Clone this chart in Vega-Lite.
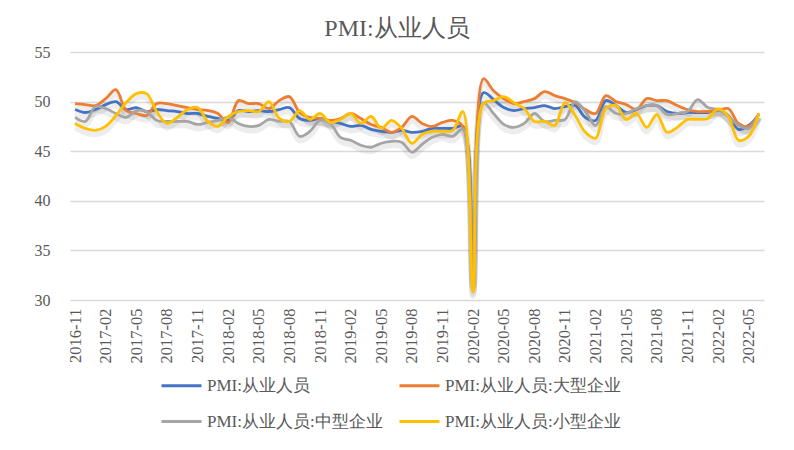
{
  "$schema": "https://vega.github.io/schema/vega-lite/v6.json",
  "width": 694,
  "height": 248,
  "autosize": {"type": "none"},
  "padding": {"left": 70, "top": 52, "right": 30, "bottom": 150},
  "background": "white",
  "config": {"view": {"stroke": null}, "font": "Liberation Serif"},
  "title": {"text": "PMI:从业人员", "fontSize": 24, "color": "#595959", "font": "Liberation Serif", "fontWeight": "normal", "anchor": "middle", "dx": -20, "offset": 3},
  "data": {"values": [
    {"month": "2016-11", "total": 49.2, "large": 49.8, "medium": 48.4, "small": 47.8},
    {"month": "2016-12", "total": 48.9, "large": 49.7, "medium": 48.0, "small": 47.3},
    {"month": "2017-01", "total": 49.2, "large": 49.6, "medium": 49.5, "small": 47.1},
    {"month": "2017-02", "total": 49.7, "large": 50.3, "medium": 49.3, "small": 47.5},
    {"month": "2017-03", "total": 50.0, "large": 51.2, "medium": 48.8, "small": 48.6},
    {"month": "2017-04", "total": 49.2, "large": 49.1, "medium": 48.4, "small": 49.9},
    {"month": "2017-05", "total": 49.4, "large": 48.8, "medium": 49.1, "small": 50.8},
    {"month": "2017-06", "total": 49.0, "large": 48.6, "medium": 49.0, "small": 50.8},
    {"month": "2017-07", "total": 49.2, "large": 49.8, "medium": 48.1, "small": 49.0},
    {"month": "2017-08", "total": 49.1, "large": 49.8, "medium": 48.0, "small": 47.8},
    {"month": "2017-09", "total": 49.0, "large": 49.6, "medium": 48.0, "small": 48.4},
    {"month": "2017-10", "total": 48.8, "large": 49.4, "medium": 48.0, "small": 49.2},
    {"month": "2017-11", "total": 48.8, "large": 49.2, "medium": 47.7, "small": 49.4},
    {"month": "2017-12", "total": 48.5, "large": 49.1, "medium": 47.9, "small": 48.0},
    {"month": "2018-01", "total": 48.3, "large": 48.8, "medium": 48.1, "small": 47.5},
    {"month": "2018-02", "total": 48.1, "large": 47.9, "medium": 48.4, "small": 48.5},
    {"month": "2018-03", "total": 49.1, "large": 50.1, "medium": 47.8, "small": 49.0},
    {"month": "2018-04", "total": 49.0, "large": 49.8, "medium": 47.5, "small": 49.1},
    {"month": "2018-05", "total": 49.1, "large": 49.8, "medium": 47.6, "small": 49.0},
    {"month": "2018-06", "total": 49.0, "large": 49.3, "medium": 48.2, "small": 50.0},
    {"month": "2018-07", "total": 49.2, "large": 50.1, "medium": 48.0, "small": 48.3},
    {"month": "2018-08", "total": 49.4, "large": 50.5, "medium": 48.0, "small": 48.0},
    {"month": "2018-09", "total": 48.3, "large": 48.9, "medium": 46.5, "small": 49.1},
    {"month": "2018-10", "total": 48.1, "large": 48.4, "medium": 47.0, "small": 48.2},
    {"month": "2018-11", "total": 48.3, "large": 48.3, "medium": 48.1, "small": 48.8},
    {"month": "2018-12", "total": 48.0, "large": 48.1, "medium": 47.8, "small": 47.9},
    {"month": "2019-01", "total": 47.8, "large": 48.3, "medium": 46.4, "small": 48.2},
    {"month": "2019-02", "total": 47.5, "large": 48.8, "medium": 46.1, "small": 48.8},
    {"month": "2019-03", "total": 47.6, "large": 48.3, "medium": 45.6, "small": 47.8},
    {"month": "2019-04", "total": 47.2, "large": 47.7, "medium": 45.4, "small": 48.5},
    {"month": "2019-05", "total": 47.0, "large": 47.4, "medium": 45.8, "small": 47.3},
    {"month": "2019-06", "total": 46.9, "large": 46.9, "medium": 46.0, "small": 48.1},
    {"month": "2019-07", "total": 47.1, "large": 47.4, "medium": 45.9, "small": 47.3},
    {"month": "2019-08", "total": 46.9, "large": 48.5, "medium": 44.9, "small": 45.8},
    {"month": "2019-09", "total": 47.0, "large": 47.8, "medium": 45.7, "small": 46.7},
    {"month": "2019-10", "total": 47.3, "large": 47.5, "medium": 46.4, "small": 47.0},
    {"month": "2019-11", "total": 47.3, "large": 47.9, "medium": 46.7, "small": 47.0},
    {"month": "2019-12", "total": 47.3, "large": 48.1, "medium": 46.5, "small": 47.1},
    {"month": "2020-01", "total": 47.5, "large": 47.5, "medium": 47.2, "small": 49.0},
    {"month": "2020-02", "total": 31.8, "large": 31.5, "medium": 31.0, "small": 30.8},
    {"month": "2020-03", "total": 50.9, "large": 52.3, "medium": 49.9, "small": 49.8},
    {"month": "2020-04", "total": 50.2, "large": 51.1, "medium": 48.8, "small": 50.1},
    {"month": "2020-05", "total": 49.4, "large": 50.3, "medium": 47.7, "small": 50.5},
    {"month": "2020-06", "total": 49.1, "large": 49.8, "medium": 47.4, "small": 49.9},
    {"month": "2020-07", "total": 49.3, "large": 50.0, "medium": 47.8, "small": 49.3},
    {"month": "2020-08", "total": 49.4, "large": 50.3, "medium": 48.8, "small": 48.0},
    {"month": "2020-09", "total": 49.6, "large": 51.0, "medium": 48.0, "small": 48.0},
    {"month": "2020-10", "total": 49.3, "large": 50.6, "medium": 48.1, "small": 47.6},
    {"month": "2020-11", "total": 49.5, "large": 50.3, "medium": 48.2, "small": 49.9},
    {"month": "2020-12", "total": 49.6, "large": 49.9, "medium": 50.0, "small": 48.6},
    {"month": "2021-01", "total": 48.4, "large": 49.2, "medium": 49.0, "small": 46.9},
    {"month": "2021-02", "total": 48.1, "large": 48.8, "medium": 47.6, "small": 46.3},
    {"month": "2021-03", "total": 50.1, "large": 50.6, "medium": 49.5, "small": 49.3},
    {"month": "2021-04", "total": 49.6, "large": 50.0, "medium": 48.8, "small": 49.6},
    {"month": "2021-05", "total": 48.9, "large": 49.7, "medium": 48.8, "small": 48.2},
    {"month": "2021-06", "total": 49.2, "large": 49.2, "medium": 49.3, "small": 48.8},
    {"month": "2021-07", "total": 49.6, "large": 50.3, "medium": 49.6, "small": 47.4},
    {"month": "2021-08", "total": 49.6, "large": 50.1, "medium": 49.6, "small": 48.7},
    {"month": "2021-09", "total": 49.0, "large": 50.1, "medium": 48.7, "small": 46.9},
    {"month": "2021-10", "total": 48.8, "large": 49.6, "medium": 48.8, "small": 47.4},
    {"month": "2021-11", "total": 48.9, "large": 49.2, "medium": 49.0, "small": 48.2},
    {"month": "2021-12", "total": 48.9, "large": 49.0, "medium": 50.2, "small": 48.2},
    {"month": "2022-01", "total": 48.9, "large": 49.0, "medium": 49.4, "small": 48.3},
    {"month": "2022-02", "total": 49.2, "large": 49.1, "medium": 49.2, "small": 49.3},
    {"month": "2022-03", "total": 48.6, "large": 49.3, "medium": 48.5, "small": 48.5},
    {"month": "2022-04", "total": 47.2, "large": 47.8, "medium": 47.6, "small": 46.1},
    {"month": "2022-05", "total": 47.6, "large": 47.5, "medium": 47.3, "small": 46.5},
    {"month": "2022-06", "total": 48.7, "large": 48.8, "medium": 48.8, "small": 48.8}
  ]},
  "transform": [{"fold": ["total", "large", "medium", "small"], "as": ["series", "value"]}],
  "encoding": {
    "x": {
      "field": "month", "type": "ordinal", "sort": null,
      "scale": {"type": "point", "padding": 0.5},
      "axis": {
        "title": null,
        "values": ["2016-11","2017-02","2017-05","2017-08","2017-11","2018-02","2018-05","2018-08","2018-11","2019-02","2019-05","2019-08","2019-11","2020-02","2020-05","2020-08","2020-11","2021-02","2021-05","2021-08","2021-11","2022-02","2022-05"],
        "labelAngle": -90, "ticks": false, "domain": false, "grid": false,
        "labelFontSize": 16.5, "labelColor": "#595959", "labelPadding": 8, "labelFont": "Liberation Serif"
      }
    },
    "y": {
      "field": "value", "type": "quantitative",
      "scale": {"domain": [30, 55], "nice": false, "zero": false},
      "axis": {
        "title": null, "values": [30, 35, 40, 45, 50, 55],
        "domain": false, "ticks": false, "grid": true, "gridColor": "#d9d9d9", "gridWidth": 1.3,
        "labelFontSize": 16, "labelColor": "#595959", "labelPadding": 20, "labelFont": "Liberation Serif"
      }
    }
  },
  "layer": [
    {
      "mark": {"type": "line", "interpolate": "catmull-rom", "color": "#000000", "opacity": 0.07, "strokeWidth": 6, "yOffset": 4},
      "encoding": {"detail": {"field": "series"}}
    },
    {
      "mark": {"type": "line", "interpolate": "catmull-rom", "strokeWidth": 2.8},
      "encoding": {
        "color": {
          "field": "series", "type": "nominal",
          "scale": {"domain": ["total", "large", "medium", "small"], "range": ["#4472C4", "#ED7D31", "#A5A5A5", "#FFC000"]},
          "legend": {
            "orient": "none", "legendX": 90, "legendY": 312, "direction": "horizontal", "columns": 2,
            "title": null, "symbolType": "stroke", "symbolSize": 1600, "symbolStrokeWidth": 3,
            "labelFontSize": 17, "labelColor": "#595959", "labelFont": "Liberation Serif", "labelLimit": 400,
            "columnPadding": 10, "rowPadding": 6,
            "labelExpr": "{'total': 'PMI:从业人员', 'large': 'PMI:从业人员:大型企业', 'medium': 'PMI:从业人员:中型企业', 'small': 'PMI:从业人员:小型企业'}[datum.label]"
          }
        }
      }
    }
  ]
}
